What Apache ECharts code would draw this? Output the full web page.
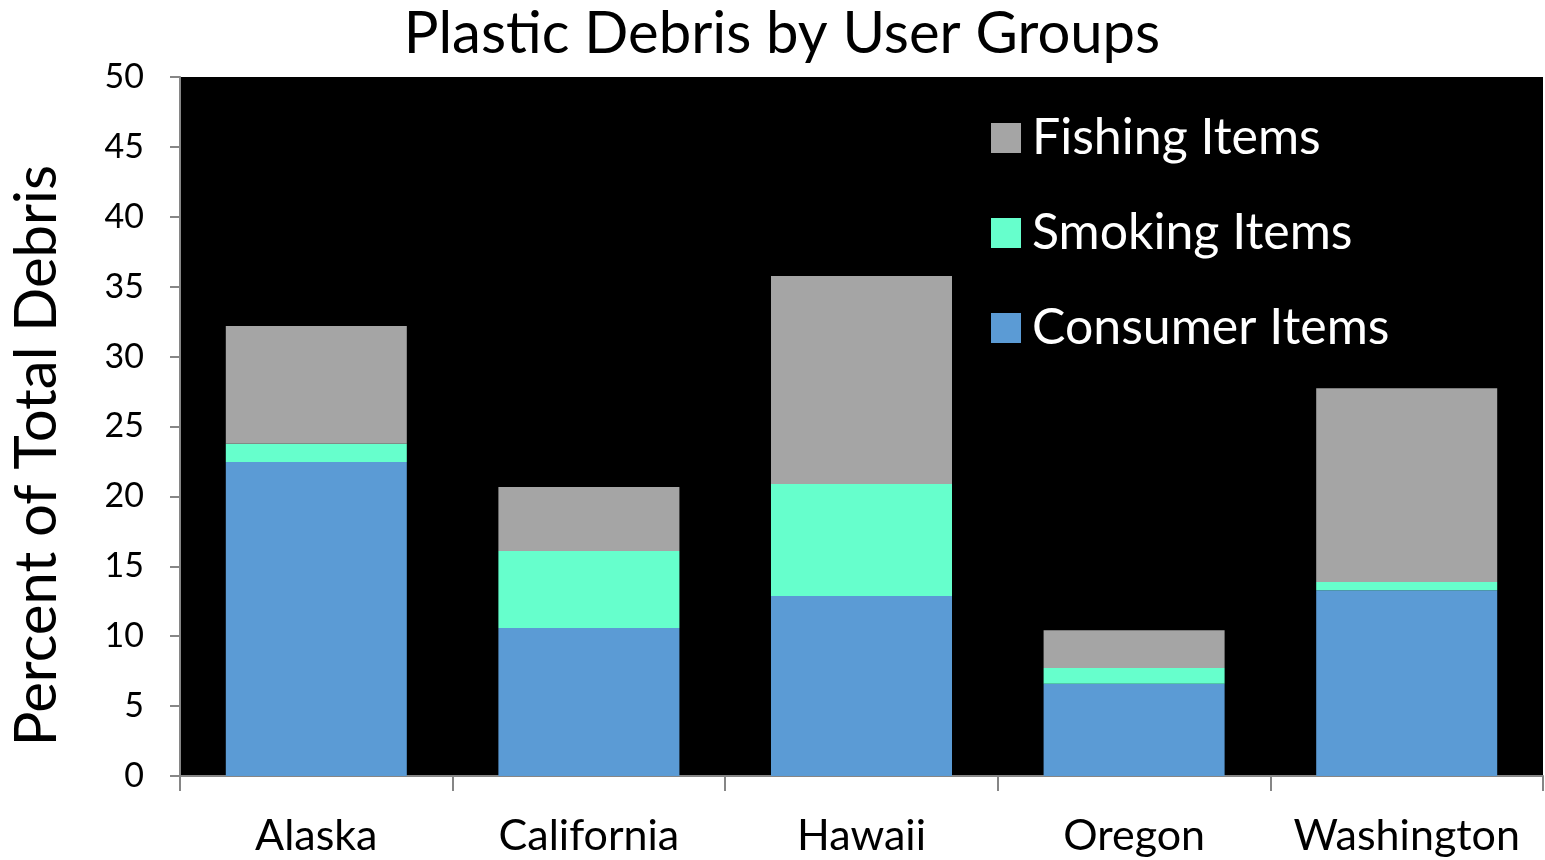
<!DOCTYPE html>
<html>
<head>
<meta charset="utf-8">
<script src="https://cdn.jsdelivr.net/npm/echarts@6/dist/echarts.min.js"></script>
<style>
  html, body { margin: 0; padding: 0; background: #ffffff; }
  #chart { width: 1545px; height: 860px; }
</style>
</head>
<body>
<div id="chart"></div>
<script>
// Share of total debris (%) by state and user group
const states = ['Alaska', 'California', 'Hawaii', 'Oregon', 'Washington'];
const consumerItems = [22.46, 10.59, 12.88, 6.59, 13.29];
const smokingItems = [1.31, 5.51, 8.01, 1.14, 0.58];
const fishingItems = [8.42, 4.57, 14.88, 2.70, 13.87];
const yTicks = { min: 0, max: 50, interval: 5 };

const font = 'Lato, "Open Sans", sans-serif';
const chart = echarts.init(document.getElementById('chart'));

function barSeries(name, data, color) {
  return {
    name: name,
    type: 'bar',
    stack: 'total',
    data: data,
    barWidth: '66.4%',
    itemStyle: { color: color },
    emphasis: { disabled: true }
  };
}

chart.setOption({
  animation: false,
  backgroundColor: '#ffffff',
  title: {
    text: 'Plastic Debris by User Groups',
    left: 777,
    textAlign: 'center',
    top: 0,
    textStyle: { fontFamily: font, fontWeight: 'normal', fontSize: 58, color: '#000' }
  },
  legend: {
    data: ['Fishing Items', 'Smoking Items', 'Consumer Items'],
    orient: 'vertical',
    left: 991,
    top: 113,
    padding: 0,
    itemWidth: 30,
    itemHeight: 30,
    itemGap: 45,
    icon: 'rect',
    selectedMode: false,
    textStyle: { fontFamily: font, fontSize: 50, lineHeight: 50, color: '#ffffff', padding: [0, 0, 0, 6] }
  },
  grid: {
    left: 180,
    right: 2,
    top: 77,
    bottom: 84,
    outerBoundsMode: 'none',
    containLabel: false,
    show: true,
    backgroundColor: '#000000',
    borderWidth: 0
  },
  xAxis: {
    type: 'category',
    data: states,
    axisLine: { lineStyle: { color: '#868686', width: 2 } },
    axisTick: { show: true, alignWithLabel: false, length: 15, lineStyle: { color: '#868686', width: 2 } },
    axisLabel: { interval: 0, fontFamily: font, fontSize: 43, color: '#000', margin: 39 }
  },
  yAxis: {
    type: 'value',
    min: yTicks.min,
    max: yTicks.max,
    interval: yTicks.interval,
    name: 'Percent of Total Debris',
    nameLocation: 'middle',
    nameGap: 114,
    nameTextStyle: { fontFamily: font, fontSize: 58, color: '#000', padding: [0, 58, 0, 0] },
    axisLine: { show: true, lineStyle: { color: '#868686', width: 2 } },
    axisTick: { show: true, length: 10, lineStyle: { color: '#868686', width: 2 } },
    splitLine: { show: false },
    axisLabel: { fontFamily: font, fontSize: 34, color: '#000', margin: 36 }
  },
  series: [
    barSeries('Consumer Items', consumerItems, '#5B9BD5'),
    barSeries('Smoking Items', smokingItems, '#66FFCC'),
    barSeries('Fishing Items', fishingItems, '#A5A5A5')
  ]
});
</script>
</body>
</html>
